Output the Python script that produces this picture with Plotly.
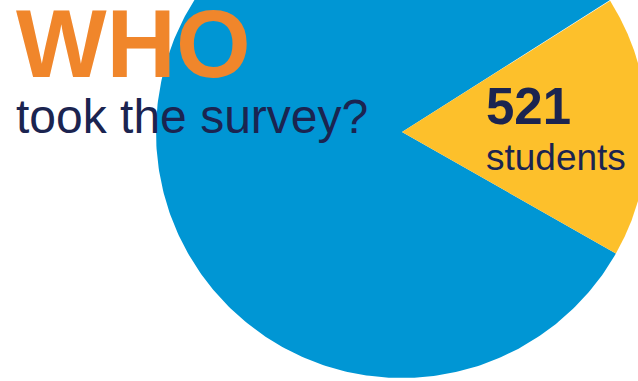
import numpy as np
import plotly.graph_objects as go

# Data
categories = ["Students who took the survey", "Other students"]
values = [521, 2504]
slice_colors = ["#FDC02B", "#0096D4"]

# Layout parameters (pixel space)
W, H = 638, 381
cx, cy, R = 402, 132, 246
start_deg = 32.4  # angle where the first slice starts (counter-clockwise from +x)

fig = go.Figure()

total = sum(values)
angle = start_deg
wedges = []
for cat, val, col in zip(categories, values, slice_colors):
    sweep = val / total * 360.0
    a = np.radians(np.linspace(angle, angle - sweep, 400))
    xs = np.concatenate([[cx], cx + R * np.cos(a), [cx]])
    ys = np.concatenate([[cy], cy - R * np.sin(a), [cy]])
    wedges.append((cat, xs, ys, col))
    angle -= sweep

for cat, xs, ys, col in reversed(wedges):
    fig.add_trace(go.Scatter(
        x=xs, y=ys, mode="lines", fill="toself", fillcolor=col,
        line=dict(width=0, color=col), name=cat, hoverinfo="name",
        showlegend=False,
    ))

font_family = "Liberation Sans, Arial, Helvetica, sans-serif"
navy = "#1B2450"
orange = "#F0862B"

fig.add_annotation(x=14, y=43, xref="x", yref="y", text="<b>WHO</b>",
                   showarrow=False, xanchor="left", yanchor="middle",
                   font=dict(family=font_family, size=96, color=orange))
fig.add_annotation(x=14, y=116, xref="x", yref="y", text="took the survey?",
                   showarrow=False, xanchor="left", yanchor="middle",
                   font=dict(family=font_family, size=48, color=navy))
fig.add_annotation(x=484, y=106, xref="x", yref="y", text=f"<b>{values[0]}</b>",
                   showarrow=False, xanchor="left", yanchor="middle",
                   font=dict(family=font_family, size=51, color=navy))
fig.add_annotation(x=484, y=157, xref="x", yref="y", text="students",
                   showarrow=False, xanchor="left", yanchor="middle",
                   font=dict(family=font_family, size=37, color=navy))

fig.update_layout(
    width=W, height=H,
    margin=dict(l=0, r=0, t=0, b=0),
    paper_bgcolor="white", plot_bgcolor="white",
    xaxis=dict(range=[0, W], visible=False, fixedrange=True),
    yaxis=dict(range=[H, 0], visible=False, fixedrange=True),
    showlegend=False,
)

fig.write_html("out.html", config={"displayModeBar": False})
